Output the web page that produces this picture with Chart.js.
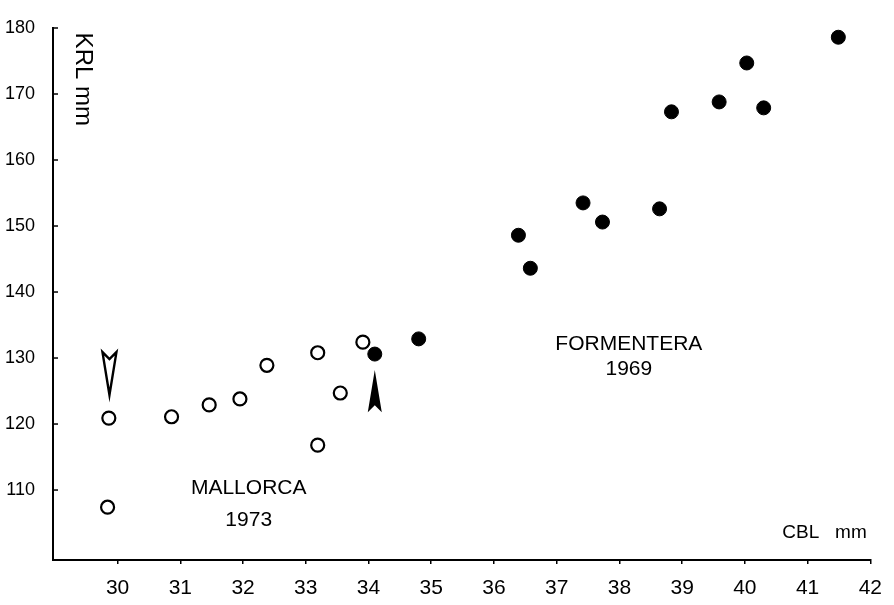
<!DOCTYPE html>
<html>
<head>
<meta charset="utf-8">
<script src="https://cdn.jsdelivr.net/npm/chart.js@4.4.0/dist/chart.umd.min.js"></script>
<style>
  html, body { margin: 0; padding: 0; background: #fff; }
  #wrap { width: 894px; height: 605px; }
</style>
</head>
<body>
<div id="wrap"><canvas id="c"></canvas></div>
<script>
// ---- Data ----
const mallorcaCBL = [29.84, 29.86, 30.86, 31.46, 31.95, 32.38, 33.19, 33.19, 33.55, 33.91];
const mallorcaKRL = [107.4, 120.9, 121.1, 122.9, 123.8, 128.9, 130.8, 116.8, 124.7, 132.4];

const formenteraCBL = [34.10, 34.80, 36.39, 36.58, 37.42, 37.73, 38.64, 38.83, 39.59, 40.03, 40.30, 41.49];
const formenteraKRL = [130.6, 132.9, 148.6, 143.6, 153.5, 150.6, 152.6, 167.3, 168.8, 174.7, 167.9, 178.6];

const xTicks = [30, 31, 32, 33, 34, 35, 36, 37, 38, 39, 40, 41, 42];
const yTicks = [110, 120, 130, 140, 150, 160, 170, 180];

// arrows: x position, tip value, tail value (KRL), style
const arrowX    = [29.87, 34.10];
const arrowTip  = [124.4, 128.2];
const arrowTail = [130.9, 121.8];
const arrowFill = [false, true];

// text annotations
const noteText = ['MALLORCA', '1973', 'FORMENTERA', '1969', 'CBL   mm'];
const noteX    = [32.09, 32.09, 38.15, 38.15, 41.27];
const noteY    = [110.3, 105.5, 132.1, 128.3, 103.6];
const noteSize = [21, 21, 21, 21, 19];
const yTitle = 'KRL mm';
const yTitleX = 29.44, yTitleTop = 179.3;

const FONT = '"Liberation Sans", Arial, sans-serif';

const toPts = (xs, ys) => xs.map((x, i) => ({ x, y: ys[i] }));

const decor = {
  id: 'decor',
  afterDatasetsDraw(chart) {
    const { ctx, scales: { x, y } } = chart;
    ctx.save();
    // inward y ticks
    ctx.strokeStyle = '#000';
    ctx.lineWidth = 1.5;
    yTicks.forEach(v => {
      const py = y.getPixelForValue(v);
      ctx.beginPath();
      ctx.moveTo(x.left, py);
      ctx.lineTo(x.left + 5, py);
      ctx.stroke();
    });
    // arrows
    arrowX.forEach((ax, i) => {
      const px = x.getPixelForValue(ax);
      const tip = y.getPixelForValue(arrowTip[i]);
      const tail = y.getPixelForValue(arrowTail[i]);
      const dir = Math.sign(tail - tip);
      const hw = 7;
      const notch = 7 * dir;
      ctx.beginPath();
      ctx.moveTo(px, tip);
      ctx.lineTo(px + hw, tail);
      ctx.lineTo(px, tail - notch);
      ctx.lineTo(px - hw, tail);
      ctx.closePath();
      if (arrowFill[i]) {
        ctx.fillStyle = '#000';
        ctx.fill();
      } else {
        ctx.fillStyle = '#fff';
        ctx.fill();
        ctx.lineWidth = 2.4;
        ctx.lineJoin = 'miter';
        ctx.strokeStyle = '#000';
        ctx.stroke();
      }
    });
    // text notes
    ctx.fillStyle = '#000';
    ctx.textAlign = 'center';
    ctx.textBaseline = 'middle';
    noteText.forEach((t, i) => {
      ctx.font = noteSize[i] + 'px ' + FONT;
      ctx.fillText(t, x.getPixelForValue(noteX[i]), y.getPixelForValue(noteY[i]));
    });
    // rotated y title
    ctx.translate(x.getPixelForValue(yTitleX), y.getPixelForValue(yTitleTop));
    ctx.rotate(Math.PI / 2);
    ctx.textAlign = 'left';
    ctx.font = '24px ' + FONT;
    ctx.fillText(yTitle, 0, 0);
    ctx.restore();
  }
};

new Chart(document.getElementById('c'), {
  type: 'scatter',
  data: {
    datasets: [
      {
        label: 'Mallorca 1973',
        data: toPts(mallorcaCBL, mallorcaKRL),
        pointStyle: 'circle',
        pointRadius: 6.5,
        pointBorderWidth: 2.2,
        pointBackgroundColor: '#fff',
        pointBorderColor: '#000'
      },
      {
        label: 'Formentera 1969',
        data: toPts(formenteraCBL, formenteraKRL),
        pointStyle: 'circle',
        pointRadius: 7,
        pointBorderWidth: 1,
        pointBackgroundColor: '#000',
        pointBorderColor: '#000'
      }
    ]
  },
  options: {
    responsive: true,
    maintainAspectRatio: false,
    animation: false,
    events: [],
    layout: { padding: { top: 28, right: 18, left: 0, bottom: 0 } },
    plugins: { legend: { display: false }, tooltip: { enabled: false } },
    scales: {
      x: {
        type: 'linear',
        min: 28.97,
        max: 42,
        afterBuildTicks: s => { s.ticks = xTicks.map(v => ({ value: v })); },
        afterFit: s => { s.height = 45; },
        grid: { display: true, drawOnChartArea: false, drawTicks: true, tickLength: 4, color: '#000', lineWidth: 1.5 },
        border: { display: true, color: '#000', width: 2 },
        ticks: { color: '#000', font: { family: FONT, size: 21 }, padding: 12, maxRotation: 0, autoSkip: false }
      },
      y: {
        type: 'linear',
        min: 99.4,
        max: 180,
        afterBuildTicks: s => { s.ticks = yTicks.map(v => ({ value: v })); },
        afterFit: s => { s.width = 53; },
        grid: { display: false },
        border: { display: true, color: '#000', width: 2 },
        ticks: { color: '#000', font: { family: FONT, size: 18 }, padding: 10, autoSkip: false }
      }
    }
  },
  plugins: [decor]
});
</script>
</body>
</html>
